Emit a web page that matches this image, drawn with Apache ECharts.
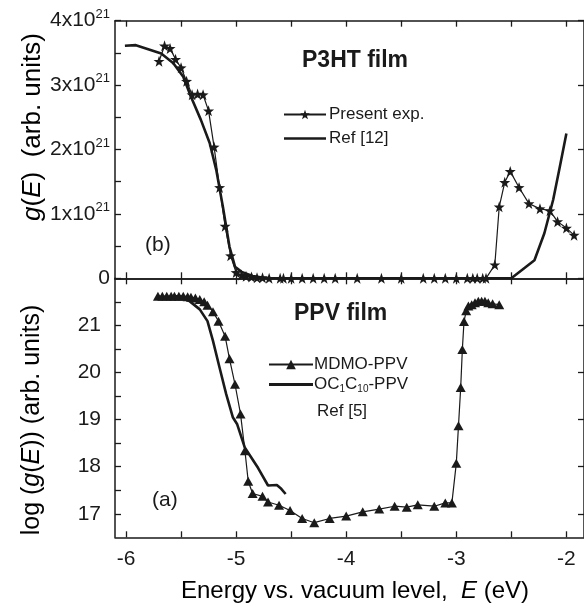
<!DOCTYPE html>
<html>
<head>
<meta charset="utf-8">
<script src="https://cdn.jsdelivr.net/npm/echarts@6/dist/echarts.min.js"></script>
<style>
  html, body { margin: 0; padding: 0; background: #fff; }
  #chart { width: 584px; height: 604px; }
</style>
</head>
<body>
<div id="chart"></div>
<script>
// P3HT film (panel b): density of states g(E), in units of 1e21
const p3htExpE = [-5.70, -5.65, -5.60, -5.55, -5.50, -5.45, -5.40, -5.35, -5.30, -5.25,
  -5.20, -5.15, -5.10, -5.05, -5.00, -4.95, -4.91, -4.86, -4.81, -4.76, -4.70, -4.60,
  -4.57, -4.50, -4.40, -4.30, -4.20, -4.10, -3.90, -3.68, -3.50, -3.30, -3.20, -3.10,
  -3.00, -2.90, -2.85, -2.81, -2.76, -2.73, -2.65, -2.61, -2.56, -2.51, -2.43, -2.34,
  -2.24, -2.15, -2.08, -2.00, -1.93];
const p3htExpG = [3.37, 3.61, 3.57, 3.40, 3.27, 3.06, 2.85, 2.86, 2.85, 2.60,
  2.04, 1.41, 0.81, 0.35, 0.09, 0.05, 0.03, 0.02, 0.01, 0.01, 0, 0,
  0, 0, 0, 0, 0, 0, 0, 0, 0, 0, 0, 0,
  0, 0, 0, 0, 0, 0, 0.21, 1.11, 1.49, 1.66, 1.41, 1.16,
  1.08, 1.05, 0.88, 0.78, 0.67];

const p3htRefE = [-6.01, -5.91, -5.68, -5.57, -5.48, -5.41, -5.32, -5.24, -5.18, -5.12,
  -5.06, -5.01, -4.95, -4.85, -4.72, -2.50, -2.29, -2.20, -2.12, -2.06, -2.00];
const p3htRefG = [3.61, 3.62, 3.49, 3.34, 3.13, 2.82, 2.46, 2.10, 1.68, 1.11,
  0.49, 0.18, 0.10, 0.035, 0, 0, 0.28, 0.70, 1.22, 1.73, 2.25];

// PPV film (panel a): log g(E)
const ppvE = [-5.71, -5.67, -5.63, -5.59, -5.56, -5.52, -5.48, -5.44, -5.41, -5.37,
  -5.33, -5.29, -5.26, -5.21, -5.16, -5.10, -5.06, -5.01, -4.96, -4.92, -4.89, -4.85,
  -4.76, -4.71, -4.61, -4.51, -4.40, -4.29, -4.15, -4.00, -3.85, -3.70, -3.56, -3.45,
  -3.35, -3.20, -3.10, -3.04, -3.00, -2.98, -2.96, -2.945, -2.93, -2.91, -2.89, -2.86,
  -2.83, -2.80, -2.77, -2.74, -2.71, -2.67, -2.61];
const ppvLog = [21.62, 21.62, 21.62, 21.62, 21.62, 21.62, 21.62, 21.61, 21.60, 21.58,
  21.55, 21.50, 21.43, 21.29, 21.09, 20.77, 20.29, 19.75, 19.12, 18.34, 17.69, 17.43,
  17.37, 17.25, 17.18, 17.07, 16.90, 16.81, 16.90, 16.95, 17.04, 17.10, 17.16, 17.14,
  17.19, 17.16, 17.23, 17.23, 18.07, 18.87, 19.68, 20.49, 21.08, 21.31, 21.41, 21.44,
  21.48, 21.51, 21.51, 21.51, 21.48, 21.46, 21.44];

const ocE = [-5.55, -5.50, -5.42, -5.33, -5.26, -5.21, -5.15, -5.09, -5.03, -4.99,
  -4.92, -4.80, -4.71, -4.63, -4.59, -4.55];
const ocLog = [21.62, 21.61, 21.51, 21.34, 21.09, 20.67, 20.10, 19.54, 19.05, 18.90,
  18.40, 17.97, 17.60, 17.61, 17.53, 17.42];

const xTicks = [-6, -5.5, -5, -4.5, -4, -3.5, -3, -2.5, -2];
const xLabels = [-6, -5, -4, -3, -2];
const gTicks = [0, 0.5, 1, 1.5, 2, 2.5, 3, 3.5, 4];
const gLabels = [0, 1, 2, 3, 4];
const logTicks = [17, 17.5, 18, 18.5, 19, 19.5, 20, 20.5, 21, 21.5];
const logLabels = [17, 18, 19, 20, 21];

const zip = (a, b) => a.map((v, i) => [v, b[i]]);

const FONT = '"Liberation Sans", Arial, Helvetica, sans-serif';
const INK = '#1a1a1a';
const STAR = 'path://M0,-10L2.35,-3.24L9.51,-3.09L3.8,1.24L5.88,8.09L0,4L-5.88,8.09L-3.8,1.24L-9.51,-3.09L-2.35,-3.24Z';
const THICK_LINE_ICON = 'path://M0,0H40V2.6H0Z';

const axisLine = { show: true, onZero: false, lineStyle: { color: INK, width: 1.5 } };
const tickStyle = { color: INK, width: 1.3 };

const nameRich = size => ({
  n: { fontFamily: FONT, fontSize: size, color: INK },
  i: { fontFamily: FONT, fontSize: size, color: INK, fontStyle: 'italic' }
});

function xAxis(grid, position, withLabels) {
  return {
    type: 'value', gridIndex: grid, position: position,
    min: -6.1, max: -1.84,
    axisLine: axisLine,
    axisTick: { show: true, inside: true, length: 6, lineStyle: tickStyle, customValues: xTicks },
    axisLabel: withLabels
      ? { show: true, customValues: xLabels, margin: 11, fontFamily: FONT, fontSize: 21, color: INK }
      : { show: false },
    splitLine: { show: false }
  };
}

const option = {
  animation: false,
  backgroundColor: '#fff',
  grid: [
    { left: 115, top: 20.7, width: 469, height: 257.6 },
    { left: 115, top: 278.3, width: 469, height: 259 }
  ],
  xAxis: [
    xAxis(0, 'bottom', false),
    xAxis(0, 'top', false),
    xAxis(1, 'bottom', true),
    xAxis(1, 'top', false)
  ],
  yAxis: [
    {
      type: 'value', gridIndex: 0, position: 'left', min: 0, max: 4,
      axisLine: axisLine,
      axisTick: { show: true, inside: true, length: 6, lineStyle: tickStyle, customValues: gTicks },
      axisLabel: {
        customValues: gLabels, margin: 5,
        formatter: v => v === 0 ? '{n|0}' : '{n|' + v + 'x10}{s|21}',
        rich: {
          n: { fontFamily: FONT, fontSize: 21, color: INK },
          s: { fontFamily: FONT, fontSize: 13, color: INK, verticalAlign: 'top', padding: [0, 0, 13, 0] }
        }
      },
      splitLine: { show: false }
    },
    {
      type: 'value', gridIndex: 0, position: 'right', min: 0, max: 4,
      axisLine: axisLine,
      axisTick: { show: true, inside: true, length: 6, lineStyle: tickStyle, customValues: gLabels },
      axisLabel: { show: false }, splitLine: { show: false }
    },
    {
      type: 'value', gridIndex: 1, position: 'left', min: 16.5, max: 22,
      axisLine: axisLine,
      axisTick: { show: true, inside: true, length: 6, lineStyle: tickStyle, customValues: logTicks },
      axisLabel: { customValues: logLabels, margin: 14, fontFamily: FONT, fontSize: 21, color: INK },
      splitLine: { show: false }
    },
    {
      type: 'value', gridIndex: 1, position: 'right', min: 16.5, max: 22,
      axisLine: axisLine,
      axisTick: { show: true, inside: true, length: 6, lineStyle: tickStyle, customValues: logLabels },
      axisLabel: { show: false }, splitLine: { show: false }
    }
  ],
  legend: [
    {
      data: ['Present exp.', { name: 'Ref [12]', icon: THICK_LINE_ICON }],
      orient: 'vertical', left: 283, top: 106, padding: 0,
      itemWidth: 42, itemHeight: 12, itemGap: 7,
      textStyle: { fontFamily: FONT, fontSize: 17, color: INK, padding: [0, 0, 0, -2] }
    },
    {
      data: ['MDMO-PPV', { name: 'OC1C10-PPV', icon: THICK_LINE_ICON }],
      orient: 'vertical', left: 268, top: 356, padding: 0,
      itemWidth: 44, itemHeight: 12, itemGap: 3,
      formatter: name => name === 'OC1C10-PPV'
        ? '{n|OC}{s|1}{n|C}{s|10}{n|-PPV}' : '{n|' + name + '}',
      textStyle: {
        fontFamily: FONT, fontSize: 17, color: INK, padding: [0, 0, 0, -4],
        rich: {
          n: { fontFamily: FONT, fontSize: 17, color: INK },
          s: { fontFamily: FONT, fontSize: 10, color: INK, verticalAlign: 'bottom', padding: [10, 0, 0, 0] }
        }
      }
    }
  ],
  graphic: [
    { type: 'text', left: 302, top: 49, style: { text: 'P3HT film', font: 'bold 23px ' + FONT, fill: INK } },
    { type: 'text', left: 294, top: 302, style: { text: 'PPV film', font: 'bold 23px ' + FONT, fill: INK } },
    { type: 'text', left: 145, top: 235, style: { text: '(b)', font: '21px ' + FONT, fill: INK } },
    { type: 'text', left: 152, top: 490, style: { text: '(a)', font: '21px ' + FONT, fill: INK } },
    { type: 'text', left: 317, top: 403, style: { text: 'Ref [5]', font: '17px ' + FONT, fill: INK } },
    // axis titles
    {
      type: 'text', x: 33, y: 127, rotation: Math.PI / 2,
      style: {
        text: '{i|g}{n|(}{i|E}{n|)  (arb. units)}', rich: nameRich(26),
        align: 'center', verticalAlign: 'middle'
      }
    },
    {
      type: 'text', x: 32, y: 420, rotation: Math.PI / 2,
      style: {
        text: '{n|log (}{i|g}{n|(}{i|E}{n|)) (arb. units)}', rich: nameRich(25),
        align: 'center', verticalAlign: 'middle'
      }
    },
    {
      type: 'text', x: 355, y: 591,
      style: {
        text: '{n|Energy vs. vacuum level,  }{i|E}{n| (eV)}', rich: nameRich(24),
        align: 'center', verticalAlign: 'middle'
      }
    }
  ],
  series: [
    {
      name: 'Present exp.', type: 'line', xAxisIndex: 0, yAxisIndex: 0,
      data: zip(p3htExpE, p3htExpG),
      symbol: STAR, symbolSize: 11, showAllSymbol: true,
      lineStyle: { color: INK, width: 1.2 }, itemStyle: { color: INK },
      z: 3
    },
    {
      name: 'Ref [12]', type: 'line', xAxisIndex: 0, yAxisIndex: 0,
      data: zip(p3htRefE, p3htRefG),
      showSymbol: false,
      lineStyle: { color: INK, width: 2.6 }, itemStyle: { color: INK },
      z: 2
    },
    {
      name: 'MDMO-PPV', type: 'line', xAxisIndex: 2, yAxisIndex: 2,
      data: zip(ppvE, ppvLog),
      symbol: 'triangle', symbolSize: [10, 9], showAllSymbol: true,
      lineStyle: { color: INK, width: 1.2 }, itemStyle: { color: INK },
      z: 3
    },
    {
      name: 'OC1C10-PPV', type: 'line', xAxisIndex: 2, yAxisIndex: 2,
      data: zip(ocE, ocLog),
      showSymbol: false,
      lineStyle: { color: INK, width: 2.6 }, itemStyle: { color: INK },
      z: 2
    }
  ]
};

const chart = echarts.init(document.getElementById('chart'), null, { renderer: 'canvas' });
chart.setOption(option);
</script>
</body>
</html>
